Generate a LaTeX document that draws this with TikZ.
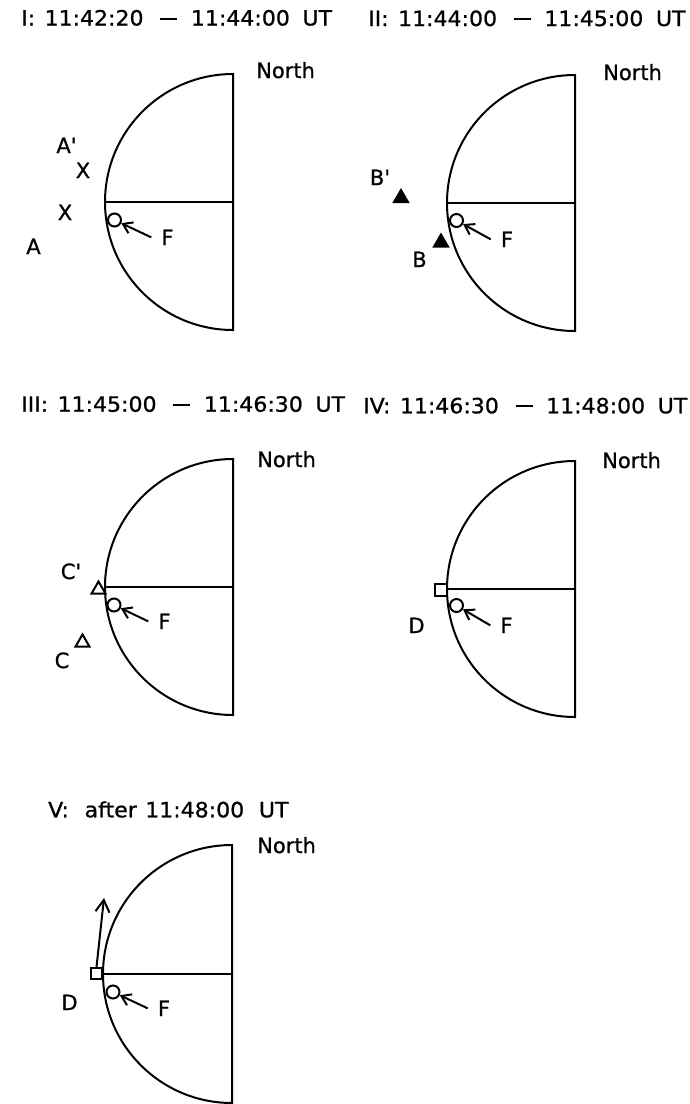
\documentclass[tikz,border=0pt]{standalone}
\usepackage{fontspec}
\setmainfont{DejaVu Sans}[FakeBold=0.8]
\usetikzlibrary{arrows.meta,shapes.geometric}
\newcommand\tdash{\hspace{16pt}\rule[6pt]{16pt}{2pt}\hspace{13pt}}
\newcommand\ttltext[3]{\scalebox{1.05}[1]{#1\hspace{9pt}#2\tdash #3\hspace{12pt}UT}}
\tikzset{
  ln/.style={line width=2pt},
  lbl/.style={inner sep=0pt, anchor=base, font=\fontsize{21}{24}\selectfont},
  ttl/.style={inner sep=0pt, anchor=base west, font=\fontsize{21}{24}\selectfont},
  nlbl/.style={inner sep=0pt, anchor=base west, font=\fontsize{21}{24}\selectfont},
  fcirc/.style={circle, draw, line width=2pt, minimum size=13pt, inner sep=0pt},
  farrow/.style={line width=2pt, -{Straight Barb[length=9pt,width=12pt,line width=2pt]}},
  uparrow/.style={line width=2pt, -{Straight Barb[length=12pt,width=14pt,line width=2pt]}},
  ftri/.style={regular polygon, regular polygon sides=3, fill=black, minimum size=20pt, inner sep=0pt},
  otri/.style={regular polygon, regular polygon sides=3, draw, line width=2pt, minimum size=16pt, inner sep=0pt},
  sqbox/.style={rectangle, draw, line width=2pt, inner sep=0pt},
}
\begin{document}
\begin{tikzpicture}[x=1pt,y=-1pt]
\fill[white] (0,0) rectangle (690,1104);
\useasboundingbox (0,0) rectangle (690,1104);

% ---------- Panel I ----------
\node[ttl] (t1) at (21,25.5) {\ttltext{I:}{11:42:20}{11:44:00}};
\draw[ln] (233,74) arc[start angle=270, end angle=90, radius=128] -- cycle;
\draw[ln] (105,202) -- (233,202);
\node[nlbl] (n1) at (256,78) {North};
\node[lbl] (ap1) at (66.5,153) {A\textquotesingle};
\node[lbl] (x1) at (83,178) {X};
\node[lbl] (x2) at (65,220) {X};
\node[lbl] (a1) at (33.5,254) {A};
\node[fcirc] (c1) at (114.5,220) {};
\node[lbl] (f1) at (167.5,245) {F};
\draw[farrow] ([xshift=-10pt]f1.west) -- (c1);

% ---------- Panel II ----------
\node[ttl] (t2) at (368,26) {\ttltext{II:}{11:44:00}{11:45:00}};
\draw[ln] (575,75) arc[start angle=270, end angle=90, radius=128] -- cycle;
\draw[ln] (447,203) -- (575,203);
\node[nlbl] (n2) at (603,80) {North};
\node[lbl] (bp2) at (380,185) {B\textquotesingle};
\node[ftri] (tbp) at (401,198) {};
\node[ftri] (tb) at (441,242.5) {};
\node[lbl] (b2) at (419.5,267) {B};
\node[fcirc] (c2) at (456.5,220.5) {};
\node[lbl] (f2) at (507,247) {F};
\draw[farrow] ([xshift=-10pt]f2.west) -- (c2);

% ---------- Panel III ----------
\node[ttl] (t3) at (21,411.7) {\ttltext{III:}{11:45:00}{11:46:30}};
\draw[ln] (233,459) arc[start angle=270, end angle=90, radius=128] -- cycle;
\draw[ln] (105,587) -- (233,587);
\node[nlbl] (n3) at (257,467) {North};
\node[lbl] (cp3) at (71,579) {C\textquotesingle};
\node[otri] (tcp) at (98.5,589.5) {};
\node[otri] (tc) at (82.5,642.5) {};
\node[lbl] (cc3) at (62,668) {C};
\node[fcirc] (c3) at (114,605) {};
\node[lbl] (f3) at (164.5,629) {F};
\draw[farrow] ([xshift=-10pt]f3.west) -- (c3);

% ---------- Panel IV ----------
\node[ttl] (t4) at (363,413.3) {\ttltext{IV:}{11:46:30}{11:48:00}};
\draw[ln] (575,461) arc[start angle=270, end angle=90, radius=128] -- cycle;
\draw[ln] (447,589) -- (575,589);
\node[nlbl] (n4) at (602,468) {North};
\node[sqbox, minimum size=12pt] (d4) at (440.5,589.5) {};
\node[lbl] (dl4) at (416.5,633) {D};
\node[fcirc] (c4) at (456.5,605.5) {};
\node[lbl] (f4) at (506.5,633) {F};
\draw[farrow] ([xshift=-10pt]f4.west) -- (c4);

% ---------- Panel V ----------
\node[ttl] (t5) at (48,817.3) {\scalebox{1.05}[1]{V:\hspace{15pt}after\hspace{8pt}11:48:00\hspace{14pt}UT}};
\draw[ln] (232,845) arc[start angle=270, end angle=90, radius=129] -- cycle;
\draw[ln] (103,974) -- (232,974);
\node[nlbl] (n5) at (257,853) {North};
\node[sqbox, minimum size=11pt] (d5) at (96.5,973.5) {};
\coordinate (up5) at (104,898);
\draw[uparrow] (d5.north) -- (up5);
\node[lbl] (dl5) at (69.5,1010) {D};
\node[fcirc] (c5) at (113,992) {};
\node[lbl] (f5) at (164,1016) {F};
\draw[farrow] ([xshift=-10pt]f5.west) -- (c5);
\end{tikzpicture}
\end{document}
